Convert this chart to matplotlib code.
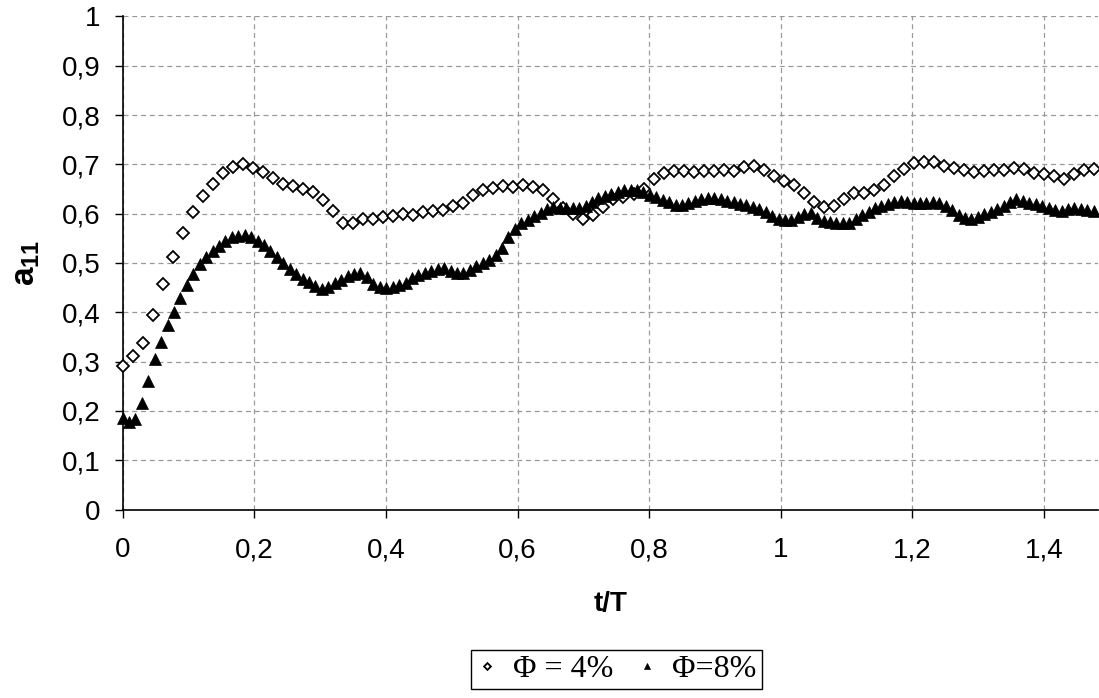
import matplotlib
matplotlib.use("Agg")
import matplotlib.pyplot as plt
import numpy as np

plt.rcParams['font.family'] = ['Liberation Sans', 'DejaVu Sans']
plt.rcParams['mathtext.fontset'] = 'custom'
plt.rcParams['mathtext.rm'] = 'Liberation Sans'
plt.rcParams['mathtext.bf'] = 'Liberation Sans:bold'

# Phi = 4 % (diamonds), uniform time step
dt_4 = 0.01522
a11_phi4 = [
    0.292, 0.311, 0.338, 0.395, 0.457, 0.512, 0.561, 0.603, 0.635, 0.660,
    0.683, 0.695, 0.701, 0.693, 0.684, 0.673, 0.661, 0.656, 0.651, 0.643,
    0.628, 0.606, 0.582, 0.582, 0.589, 0.590, 0.593, 0.595, 0.600, 0.597,
    0.603, 0.606, 0.607, 0.615, 0.622, 0.638, 0.647, 0.652, 0.657, 0.654,
    0.658, 0.655, 0.647, 0.629, 0.612, 0.599, 0.590, 0.597, 0.614, 0.630,
    0.634, 0.639, 0.650, 0.670, 0.682, 0.687, 0.687, 0.685, 0.687, 0.687,
    0.689, 0.687, 0.695, 0.697, 0.689, 0.677, 0.666, 0.658, 0.641, 0.623,
    0.614, 0.616, 0.629, 0.641, 0.641, 0.648, 0.658, 0.677, 0.691, 0.702,
    0.705, 0.704, 0.697, 0.692, 0.689, 0.685, 0.687, 0.689, 0.689, 0.692,
    0.690, 0.683, 0.681, 0.677, 0.670, 0.681, 0.689, 0.690,
]

# Phi = 8 % (triangles)
dt_8 = 0.00977
a11_phi8 = [
    0.185, 0.178, 0.184, 0.217, 0.261, 0.305, 0.340, 0.374, 0.401, 0.428,
    0.455, 0.478, 0.497, 0.513, 0.524, 0.535, 0.545, 0.552, 0.555, 0.557,
    0.553, 0.545, 0.536, 0.525, 0.512, 0.499, 0.488, 0.478, 0.468, 0.461,
    0.453, 0.448, 0.452, 0.459, 0.466, 0.473, 0.478, 0.480, 0.471, 0.457,
    0.451, 0.450, 0.452, 0.455, 0.460, 0.469, 0.476, 0.480, 0.484, 0.488,
    0.489, 0.484, 0.480, 0.480, 0.486, 0.493, 0.499, 0.506, 0.516, 0.531,
    0.552, 0.569, 0.581, 0.587, 0.595, 0.602, 0.609, 0.613, 0.611, 0.611,
    0.611, 0.611, 0.616, 0.624, 0.631, 0.635, 0.639, 0.643, 0.647, 0.648,
    0.647, 0.643, 0.638, 0.633, 0.628, 0.623, 0.618, 0.618, 0.622, 0.626,
    0.630, 0.631, 0.631, 0.629, 0.626, 0.624, 0.620, 0.618, 0.614, 0.610,
    0.604, 0.596, 0.589, 0.587, 0.587, 0.594, 0.599, 0.601, 0.591, 0.586,
    0.584, 0.582, 0.581, 0.582, 0.589, 0.597, 0.604, 0.611, 0.616, 0.620,
    0.624, 0.626, 0.624, 0.621, 0.622, 0.622, 0.623, 0.621, 0.616, 0.608,
    0.597, 0.591, 0.589, 0.594, 0.599, 0.604, 0.609, 0.616, 0.624, 0.630,
    0.626, 0.622, 0.620, 0.616, 0.611, 0.608, 0.606, 0.610, 0.611, 0.610,
    0.608, 0.606,
]

t_4 = np.arange(len(a11_phi4)) * dt_4
t_8 = np.arange(len(a11_phi8)) * dt_8

x_ticks = [0, 0.2, 0.4, 0.6, 0.8, 1.0, 1.2, 1.4]
y_ticks = [0, 0.1, 0.2, 0.3, 0.4, 0.5, 0.6, 0.7, 0.8, 0.9, 1.0]


def comma(v):
    s = ('%.1f' % v).rstrip('0').rstrip('.')
    return s.replace('.', ',')


fig = plt.figure(figsize=(10.99, 6.98), dpi=100)
ax = fig.add_axes([0.1115, 0.27, 0.8875, 0.7065])

ax.plot(t_4, a11_phi4, linestyle='none', marker='D', ms=6.3, mfc='white',
        mec='black', mew=1.3, label='Φ = 4%', clip_on=False, zorder=3)
ax.plot(t_8, a11_phi8, linestyle='none', marker='^', ms=8.5, mfc='black',
        mec='black', mew=0.5, label='Φ=8%', clip_on=False, zorder=4)

ax.set_xlim(0, 1.4817)
ax.set_ylim(0, 1)
ax.set_xticks(x_ticks)
ax.set_xticklabels([comma(v) for v in x_ticks])
ax.set_yticks(y_ticks)
ax.set_yticklabels([comma(v) for v in y_ticks])
ax.tick_params(axis='both', direction='out', length=6, width=1, labelsize=20, color='black')
ax.tick_params(axis='x', pad=14)
ax.tick_params(axis='y', pad=10)

ax.grid(True, color='#9a9a9a', linestyle=(0, (4, 3)), linewidth=0.9)
ax.set_axisbelow(True)
for side in ['top', 'right']:
    ax.spines[side].set_visible(False)
for side in ['left', 'bottom']:
    ax.spines[side].set_linewidth(1.2)
    ax.spines[side].set_color('black')

ax.set_xlabel('t/T', fontsize=20, fontweight='bold', labelpad=20)
ax.set_ylabel(r'$\mathbf{a}_{\mathbf{11}}$', fontsize=24, labelpad=14)

leg = fig.legend(loc='center', bbox_to_anchor=(0.561, 0.041), ncol=2,
                 prop={'family': 'Liberation Serif', 'size': 23},
                 markerscale=0.55, frameon=True, fancybox=False,
                 edgecolor='black', framealpha=1, handlelength=0.7,
                 handletextpad=0.45, columnspacing=0.7, borderpad=0.15,
                 borderaxespad=0)
leg.get_frame().set_linewidth(1.0)

fig.savefig('out.png', dpi=100)
